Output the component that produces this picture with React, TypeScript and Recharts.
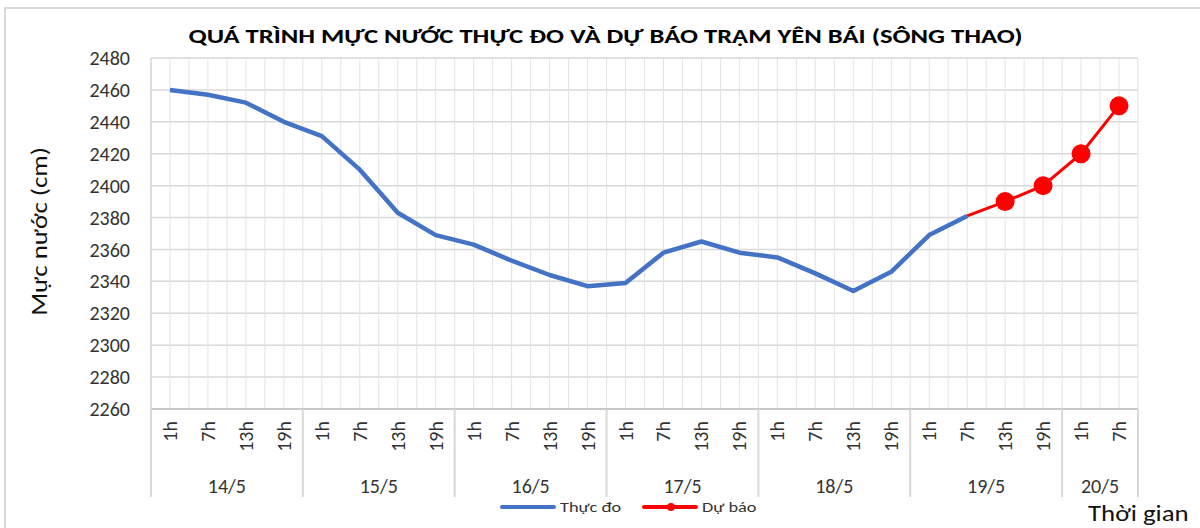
import { LineChart, Line, XAxis, YAxis, CartesianGrid } from 'recharts'

const DAY_OF_POINT = [
  '14/5', '14/5', '14/5', '14/5',
  '15/5', '15/5', '15/5', '15/5',
  '16/5', '16/5', '16/5', '16/5',
  '17/5', '17/5', '17/5', '17/5',
  '18/5', '18/5', '18/5', '18/5',
  '19/5', '19/5', '19/5', '19/5',
  '20/5', '20/5',
]
const HOUR_LABELS = [
  '1h', '7h', '13h', '19h',
  '1h', '7h', '13h', '19h',
  '1h', '7h', '13h', '19h',
  '1h', '7h', '13h', '19h',
  '1h', '7h', '13h', '19h',
  '1h', '7h', '13h', '19h',
  '1h', '7h',
]
// Thực đo
const OBSERVED: (number | null)[] = [
  2460, 2457, 2452, 2440, 2431, 2410, 2383, 2369, 2363, 2353, 2344, 2337, 2339,
  2358, 2365, 2358, 2355, 2345, 2334, 2346, 2369, 2381, null, null, null, null,
]
// Dự báo
const FORECAST: (number | null)[] = [
  null, null, null, null, null, null, null, null, null, null, null, null, null,
  null, null, null, null, null, null, null, null, 2381, 2390, 2400, 2420, 2450,
]
const Y_TICKS = [2260, 2280, 2300, 2320, 2340, 2360, 2380, 2400, 2420, 2440, 2460, 2480]

const FONT = 'Calibri, Carlito, Lato, sans-serif'
const BLUE = '#4472C4'
const RED = '#FF0000'
// chữ trong ảnh gốc rộng hơn Lato
const WIDE = 1.22

const data = HOUR_LABELS.map((h, i) => ({
  idx: i,
  hour: h,
  day: DAY_OF_POINT[i],
  observed: OBSERVED[i],
  forecast: FORECAST[i],
}))

// nhóm ngày: chỉ số đầu/cuối của mỗi ngày
const dayGroups: { label: string; start: number; end: number }[] = []
DAY_OF_POINT.forEach((d, i) => {
  const last = dayGroups[dayGroups.length - 1]
  if (last && last.label === d) last.end = i
  else dayGroups.push({ label: d, start: i, end: i })
})
const boundaries = [-0.5, ...dayGroups.map(g => g.end + 0.5)]
const dayCenters = new Map(dayGroups.map(g => [(g.start + g.end) / 2, g.label]))

// vạch lưới dọc mỗi nửa khoảng
const xTicks: number[] = []
for (let v = -0.5; v <= HOUR_LABELS.length - 0.5; v += 0.5) xTicks.push(v)

const AxisTick = (props: any) => {
  const { x, y, payload } = props
  const v = payload.value as number
  const parts: any[] = []
  if (Number.isInteger(v)) {
    parts.push(
      <text
        key="h"
        transform={`translate(${x + 7}, ${y + 12}) rotate(-90)`}
        textAnchor="end"
        fontSize={20}
        fill="#333"
        fontFamily={FONT}
      >
        {HOUR_LABELS[v]}
      </text>,
    )
  }
  if (boundaries.includes(v)) {
    parts.push(
      <line key="b" x1={x} x2={x} y1={y} y2={y + 88} stroke="#d9d9d9" strokeWidth={2} />,
    )
  }
  if (dayCenters.has(v)) {
    parts.push(
      <text
        key="d"
        x={x}
        y={y + 84}
        textAnchor="middle"
        fontSize={20}
        fill="#333"
        fontFamily={FONT}
      >
        {dayCenters.get(v)}
      </text>,
    )
  }
  return <g>{parts}</g>
}

const ForecastDot = (props: any) => {
  const { cx, cy, index } = props
  if (index === 21 || cx == null || cy == null) return <g key={`d${index}`} />
  return <circle key={`d${index}`} cx={cx} cy={cy} r={9.5} fill={RED} />
}

const Wide = ({ children, origin = 'left' }: { children: any; origin?: string }) => (
  <span
    style={{
      display: 'inline-block',
      transform: `scaleX(${WIDE})`,
      transformOrigin: origin,
    }}
  >
    {children}
  </span>
)

export default function App() {
  return (
    <div
      style={{
        position: 'absolute',
        left: 0,
        top: 0,
        width: 1200,
        height: 528,
        background: '#fff',
        overflow: 'hidden',
        fontFamily: FONT,
      }}
    >
      <div
        style={{
          position: 'absolute',
          left: 4,
          top: 7,
          width: 1210,
          height: 540,
          border: '2px solid #d9d9d9',
        }}
      />
      <div
        style={{
          position: 'absolute',
          left: 0,
          width: 1212,
          top: 24,
          textAlign: 'center',
          fontWeight: 700,
          fontSize: 20,
          color: '#000',
          whiteSpace: 'nowrap',
        }}
      >
        <span style={{ display: 'inline-block', transform: 'scaleX(1.33)', transformOrigin: 'center' }}>
          QUÁ TRÌNH MỰC NƯỚC THỰC ĐO VÀ DỰ BÁO TRẠM YÊN BÁI (SÔNG THAO)
        </span>
      </div>
      <div style={{ position: 'absolute', left: 0, top: 0 }}>
        <LineChart
          width={1200}
          height={528}
          data={data}
          margin={{ top: 58, right: 62, left: 0, bottom: 31 }}
        >
          <CartesianGrid horizontal vertical={false} stroke="#d9d9d9" strokeWidth={1.5} />
          <CartesianGrid horizontal={false} vertical stroke="#e3e3e3" strokeWidth={1} />
          <XAxis
            dataKey="idx"
            type="number"
            domain={[-0.5, HOUR_LABELS.length - 0.5]}
            ticks={xTicks}
            interval={0}
            height={88}
            tickSize={0}
            tickMargin={0}
            tickLine={false}
            axisLine={{ stroke: '#c8c8c8', strokeWidth: 2 }}
            tick={<AxisTick />}
          />
          <YAxis
            domain={[2260, 2480]}
            ticks={Y_TICKS}
            interval={0}
            width={151}
            tickSize={0}
            tickMargin={21}
            tickLine={false}
            axisLine={{ stroke: '#d9d9d9', strokeWidth: 1.5 }}
            tick={{ fontSize: 20, fill: '#333', fontFamily: FONT }}
            label={{
              content: (p: any) => {
                const vb = p.viewBox
                return (
                  <text
                    transform={`translate(40, ${vb.y + vb.height / 2 - 2}) rotate(-90) scale(${WIDE}, 1)`}
                    textAnchor="middle"
                    dominantBaseline="central"
                    fontSize={22}
                    fill="#111"
                    fontFamily={FONT}
                  >
                    Mực nước (cm)
                  </text>
                )
              },
            }}
          />
          <Line
            dataKey="observed"
            stroke={BLUE}
            strokeWidth={4.5}
            strokeLinejoin="round"
            dot={false}
            activeDot={false}
            connectNulls={false}
            isAnimationActive={false}
          />
          <Line
            dataKey="forecast"
            stroke={RED}
            strokeWidth={3}
            dot={<ForecastDot />}
            activeDot={false}
            connectNulls={false}
            isAnimationActive={false}
          />
        </LineChart>
      </div>
      <div
        style={{
          position: 'absolute',
          left: 500,
          top: 498,
          display: 'flex',
          alignItems: 'center',
          fontSize: 15,
          color: '#333',
          whiteSpace: 'nowrap',
        }}
      >
        <span style={{ width: 56, height: 4, background: BLUE, borderRadius: 2, marginRight: 4 }} />
        <span style={{ width: 62 }}>
          <Wide>Thực đo</Wide>
        </span>
        <span
          style={{
            position: 'relative',
            width: 56,
            height: 4,
            background: RED,
            borderRadius: 2,
            marginLeft: 20,
            marginRight: 4,
          }}
        >
          <span
            style={{
              position: 'absolute',
              left: 25,
              top: -2,
              width: 8,
              height: 8,
              borderRadius: 4,
              background: RED,
            }}
          />
        </span>
        <span style={{ width: 58 }}>
          <Wide>Dự báo</Wide>
        </span>
      </div>
      <div
        style={{
          position: 'absolute',
          left: 1088,
          top: 500,
          fontSize: 22,
          color: '#111',
          whiteSpace: 'nowrap',
        }}
      >
        <Wide>Thời gian</Wide>
      </div>
    </div>
  )
}
